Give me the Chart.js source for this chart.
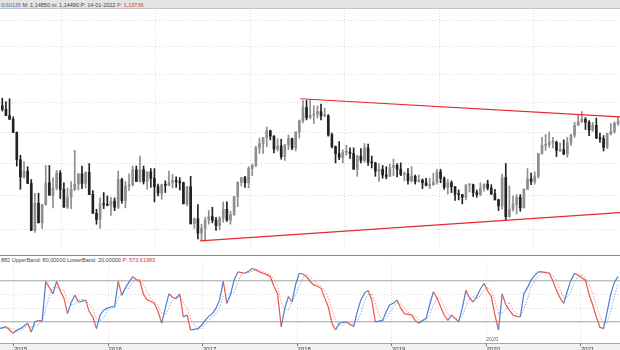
<!DOCTYPE html>
<html>
<head>
<meta charset="utf-8">
<script src="https://cdn.jsdelivr.net/npm/chart.js@4.4.1/dist/chart.umd.min.js"></script>
<style>
  body { margin: 0; width: 620px; height: 350px; overflow: hidden; background: #fff; position: relative;
         font-family: "Liberation Sans", Arial, sans-serif; }
  #hdr { position: absolute; left: 0; top: 0; width: 620px; height: 8px; background: #e4e4e4;
         border-bottom: 1px solid #c4c4c4; }
  .txt { position: absolute; left: 1px; font-size: 5.5px; line-height: 6px; white-space: nowrap; color: #444; }
  .b { color: #3a6fd0; }
  .r { color: #e03030; }
  #sep { position: absolute; left: 0; top: 255px; width: 620px; height: 1px; background: #8a8a8a; }
  #axisband { position: absolute; left: 0; top: 343px; width: 620px; height: 7px; background: #f1f1f1;
              border-top: 1px solid #a8a8a8; }
  #lbl2020 { position: absolute; left: 486px; top: 336px; font-size: 5.5px; color: #666; }
  canvas { position: absolute; left: 0; }
</style>
</head>
<body>
<div id="hdr"></div>
<div class="txt" style="top:2px"><span class="b">0/30135</span> M: 1,14850 m: 1,14490 P: 14-01-2022 <span class="r">P: 1,13739</span></div>
<div id="sep"></div>
<div class="txt" style="top:257px">882 UpperBand: 80,00000 LowerBand: 20,00000 <span class="r">P: 573,61983</span></div>
<div id="axisband"></div>
<canvas id="price" width="620" height="243" style="top:10px"></canvas>
<canvas id="osc" width="620" height="88" style="top:262px"></canvas>
<div id="lbl2020">2020</div>
<script>
// EUR/USD, two-week bars from early Nov 2014 to late May 2021
const firstBar = 2014.838;
const barStep = 14 / 365.25;
const years = [2015, 2016, 2017, 2018, 2019, 2020, 2021];

const opens = [
  1.258,1.245,1.239,1.228,1.222,1.200,1.156,1.129,1.138,1.119,
  1.049,1.089,1.060,1.087,1.120,1.101,1.112,1.135,1.110,1.083,
  1.098,1.110,1.118,1.134,1.119,1.136,1.102,1.074,1.065,1.088,
  1.087,1.086,1.092,1.083,1.125,1.093,1.115,1.117,1.140,1.122,
  1.140,1.122,1.137,1.127,1.114,1.104,1.117,1.116,1.120,1.123,
  1.122,1.120,1.088,1.114,1.059,1.066,1.045,1.052,1.064,1.069,
  1.064,1.056,1.067,1.080,1.064,1.072,1.099,1.121,1.128,1.120,
  1.142,1.147,1.175,1.182,1.192,1.203,1.194,1.173,1.178,1.161,
  1.180,1.190,1.175,1.201,1.220,1.242,1.225,1.229,1.231,1.235,
  1.228,1.228,1.196,1.177,1.166,1.160,1.168,1.168,1.166,1.141,
  1.162,1.155,1.175,1.152,1.151,1.138,1.141,1.132,1.130,1.144,
  1.147,1.141,1.133,1.134,1.123,1.130,1.122,1.124,1.120,1.116,
  1.117,1.121,1.137,1.127,1.113,1.120,1.114,1.103,1.102,1.098,
  1.117,1.117,1.105,1.102,1.112,1.118,1.112,1.103,1.094,1.085,
  1.128,1.069,1.080,1.087,1.098,1.082,1.110,1.126,1.122,1.130,
  1.166,1.179,1.180,1.184,1.184,1.171,1.172,1.165,1.183,1.196,
  1.212,1.218,1.222,1.217,1.204,1.212,1.191,1.190,1.176,1.198,
  1.202,1.215
];
const highs = [
  1.262,1.258,1.252,1.257,1.226,1.201,1.163,1.153,1.145,1.125,
  1.104,1.104,1.087,1.147,1.147,1.128,1.139,1.139,1.120,1.112,
  1.122,1.171,1.134,1.146,1.137,1.150,1.108,1.080,1.097,1.105,
  1.100,1.098,1.097,1.138,1.127,1.122,1.134,1.146,1.146,1.162,
  1.146,1.137,1.142,1.142,1.118,1.118,1.123,1.138,1.133,1.129,
  1.128,1.121,1.114,1.130,1.067,1.087,1.058,1.068,1.078,1.083,
  1.068,1.069,1.091,1.091,1.077,1.099,1.121,1.128,1.130,1.145,
  1.149,1.178,1.191,1.192,1.209,1.204,1.195,1.190,1.189,1.180,
  1.196,1.191,1.201,1.221,1.254,1.254,1.256,1.245,1.245,1.248,
  1.241,1.230,1.199,1.178,1.185,1.172,1.179,1.175,1.175,1.163,
  1.174,1.182,1.181,1.162,1.152,1.150,1.147,1.145,1.149,1.157,
  1.150,1.151,1.137,1.142,1.145,1.132,1.132,1.126,1.127,1.127,
  1.135,1.141,1.141,1.129,1.125,1.123,1.114,1.109,1.102,1.117,
  1.118,1.118,1.109,1.120,1.118,1.124,1.117,1.110,1.095,1.133,
  1.150,1.115,1.100,1.102,1.102,1.111,1.142,1.135,1.137,1.166,
  1.192,1.197,1.201,1.192,1.186,1.183,1.188,1.192,1.197,1.217,
  1.229,1.235,1.225,1.220,1.217,1.224,1.199,1.195,1.199,1.215,
  1.218,1.227
];
const lows = [
  1.236,1.236,1.228,1.222,1.200,1.146,1.110,1.127,1.119,1.049,
  1.046,1.060,1.052,1.086,1.101,1.082,1.109,1.096,1.083,1.081,
  1.081,1.108,1.109,1.111,1.112,1.102,1.074,1.058,1.052,1.081,
  1.085,1.071,1.078,1.081,1.089,1.082,1.108,1.115,1.122,1.121,
  1.118,1.110,1.113,1.091,1.100,1.095,1.105,1.116,1.112,1.113,
  1.109,1.088,1.085,1.058,1.052,1.037,1.035,1.034,1.058,1.060,
  1.049,1.050,1.061,1.062,1.058,1.071,1.084,1.115,1.113,1.112,
  1.131,1.145,1.166,1.166,1.177,1.188,1.167,1.170,1.157,1.155,
  1.172,1.172,1.170,1.191,1.216,1.221,1.223,1.215,1.224,1.221,
  1.226,1.194,1.175,1.151,1.156,1.151,1.163,1.158,1.141,1.130,
  1.151,1.152,1.147,1.143,1.130,1.122,1.127,1.126,1.130,1.131,
  1.129,1.131,1.123,1.118,1.121,1.118,1.121,1.111,1.115,1.111,
  1.116,1.118,1.120,1.110,1.103,1.105,1.093,1.094,1.088,1.094,
  1.106,1.099,1.098,1.100,1.107,1.109,1.102,1.094,1.078,1.080,
  1.064,1.068,1.077,1.073,1.077,1.082,1.110,1.117,1.118,1.127,
  1.165,1.171,1.176,1.175,1.161,1.169,1.164,1.160,1.179,1.192,
  1.212,1.217,1.205,1.195,1.202,1.190,1.184,1.170,1.174,1.196,
  1.199,1.212
];
const closes = [
  1.245,1.239,1.228,1.222,1.200,1.156,1.129,1.138,1.119,1.049,
  1.089,1.060,1.087,1.120,1.101,1.112,1.135,1.110,1.083,1.098,
  1.110,1.118,1.134,1.119,1.136,1.102,1.074,1.065,1.088,1.087,
  1.086,1.092,1.083,1.125,1.093,1.115,1.117,1.140,1.122,1.140,
  1.122,1.137,1.127,1.114,1.104,1.117,1.116,1.120,1.123,1.122,
  1.120,1.088,1.114,1.059,1.066,1.045,1.052,1.064,1.069,1.064,
  1.056,1.067,1.080,1.064,1.072,1.099,1.121,1.128,1.120,1.142,
  1.147,1.175,1.182,1.192,1.203,1.194,1.173,1.178,1.161,1.180,
  1.190,1.175,1.201,1.220,1.242,1.225,1.229,1.231,1.235,1.228,
  1.228,1.196,1.177,1.166,1.160,1.168,1.168,1.166,1.141,1.162,
  1.155,1.175,1.152,1.151,1.138,1.141,1.132,1.130,1.144,1.147,
  1.141,1.133,1.134,1.123,1.130,1.122,1.124,1.120,1.116,1.117,
  1.121,1.137,1.127,1.113,1.120,1.114,1.103,1.102,1.098,1.117,
  1.117,1.105,1.102,1.112,1.118,1.112,1.103,1.094,1.085,1.128,
  1.069,1.080,1.087,1.098,1.082,1.110,1.126,1.122,1.130,1.166,
  1.179,1.180,1.184,1.184,1.171,1.172,1.165,1.183,1.196,1.212,
  1.218,1.222,1.217,1.204,1.212,1.191,1.190,1.176,1.198,1.202,
  1.215,1.219
];

// stochastic %K and %D
const stochK = [
  10,11,13,8,3,8,10,14,18,5, 20,22,21,79,70,61,79,65,55,32,
  48,59,49,50,52,35,27,10,30,37, 40,42,42,79,59,70,78,86,82,79,
  60,52,50,47,35,18,40,61,56,54, 61,27,30,8,9,10,15,22,28,32,
  40,52,79,47,60,81,93,92,91,94, 98,96,93,91,89,86,72,61,13,40,
  57,49,75,91,90,86,79,74,72,69, 55,42,18,8,18,19,20,16,13,35,
  52,62,66,52,20,21,22,35,45,47, 52,40,32,31,30,22,18,22,25,45,
  64,55,42,30,22,30,25,20,40,66, 55,49,57,68,76,65,57,30,8,61,
  45,37,30,28,27,61,70,81,88,93, 93,92,91,80,66,55,47,65,81,91,
  88,84,81,60,45,27,12,10,35,61, 78,86
];
const stochD = [
  12,11,11,11,8,6,7,11,14,12, 14,16,21,40,57,70,70,68,66,51,
  45,46,52,53,50,46,38,24,22,26, 36,40,41,54,60,69,69,78,82,82,
  74,64,54,50,44,33,31,40,52,57, 57,47,41,24,16,9,11,16,22,27,
  33,41,57,59,62,63,78,89,92,92, 94,96,96,93,91,89,82,73,49,38,
  37,49,60,72,85,89,85,80,75,72, 65,55,38,23,15,15,19,18,16,21,
  33,50,60,60,46,31,21,26,34,42, 48,46,41,34,31,28,23,21,22,31,
  45,55,54,42,31,27,26,25,28,42, 54,57,54,58,67,70,66,51,32,33,
  38,48,37,32,28,39,53,71,80,87, 91,93,92,88,79,67,56,56,64,79,
  87,88,84,75,62,44,28,16,19,35, 58,75
];

// trend lines [year, price]
const upperTrend = [[2018.03, 1.257], [2021.413, 1.226]];
const lowerTrend = [[2016.97, 1.034], [2021.413, 1.075]];
const priceGrid = [1.05, 1.10, 1.15, 1.20, 1.25, 1.30, 1.35, 1.40];
const bands = [20, 80];

const xMin = 2014.852, xMax = 2021.413;
const xs = closes.map((c, i) => firstBar + i * barStep);
const barColor = closes.map((c, i) => c >= opens[i] ? '#8e8e8e' : '#222222');

const gridCol = '#dedede';
const yearTicks = s => { s.ticks = years.map(v => ({ value: v })); };

new Chart(document.getElementById('price'), {
  type: 'bar',
  data: {
    datasets: [
      { type: 'line', data: upperTrend.map(p => ({ x: p[0], y: p[1] })), borderColor: '#e8282c',
        borderWidth: 1.2, pointRadius: 0, order: 0 },
      { type: 'line', data: lowerTrend.map(p => ({ x: p[0], y: p[1] })), borderColor: '#e8282c',
        borderWidth: 1.2, pointRadius: 0, order: 0 },
      { data: xs.map((x, i) => ({ x: x, y: [opens[i], closes[i]] })), backgroundColor: barColor,
        barThickness: 2, minBarLength: 1, grouped: false, order: 1 },
      { data: xs.map((x, i) => ({ x: x, y: [lows[i], highs[i]] })), backgroundColor: barColor,
        barThickness: 1, grouped: false, order: 2 }
    ]
  },
  options: {
    responsive: false,
    animation: false,
    layout: { padding: 0 },
    plugins: { legend: { display: false }, tooltip: { enabled: false } },
    scales: {
      x: {
        type: 'linear', min: xMin, max: xMax, offset: false,
        afterBuildTicks: yearTicks,
        afterFit: s => { s.height = 0; },
        ticks: { display: false },
        grid: { color: gridCol, drawTicks: false },
        border: { display: false, dash: [1, 2] }
      },
      y: {
        type: 'logarithmic', min: 1.017, max: 1.42,
        afterBuildTicks: s => { s.ticks = priceGrid.map(v => ({ value: v })); },
        afterFit: s => { s.width = 0; },
        ticks: { display: false },
        grid: { color: gridCol, drawTicks: false },
        border: { display: false, dash: [1, 2] }
      }
    }
  }
});

const dir = (ctx, up, dn) => ctx.p1.parsed.y >= ctx.p0.parsed.y ? up : dn;

new Chart(document.getElementById('osc'), {
  type: 'line',
  data: {
    datasets: [
      { data: xs.map((x, i) => ({ x: x, y: stochK[i] })), borderWidth: 1.2, pointRadius: 0,
        borderColor: '#4a7fcc', segment: { borderColor: c => dir(c, '#4a7fcc', '#e8564c') } },
      { data: xs.map((x, i) => ({ x: x, y: stochD[i] })), borderWidth: 1, pointRadius: 0,
        borderDash: [1.5, 1.5], borderColor: '#8cabdd',
        segment: { borderColor: c => dir(c, '#8cabdd', '#f29690') } },
      ...bands.map(b => ({ data: [{ x: xMin, y: b }, { x: xMax, y: b }], borderColor: '#a0a0a0',
        borderWidth: 1, pointRadius: 0 }))
    ]
  },
  options: {
    responsive: false,
    animation: false,
    layout: { padding: 0 },
    plugins: { legend: { display: false }, tooltip: { enabled: false } },
    scales: {
      x: {
        type: 'linear', min: xMin, max: xMax,
        afterBuildTicks: yearTicks,
        afterFit: s => { s.height = 7; },
        ticks: { align: 'start', padding: 0, color: '#333', font: { size: 6 },
                 callback: v => String(v) },
        grid: { color: gridCol, tickColor: '#777', tickLength: 3, tickBorderDash: [] },
        border: { display: false, dash: [1, 2] }
      },
      y: {
        min: -11, max: 107.5,
        afterBuildTicks: s => { s.ticks = [40, 60].map(v => ({ value: v })); },
        afterFit: s => { s.width = 0; },
        ticks: { display: false },
        grid: { color: gridCol, drawTicks: false },
        border: { display: false, dash: [1, 2] }
      }
    }
  }
});
</script>
</body>
</html>
